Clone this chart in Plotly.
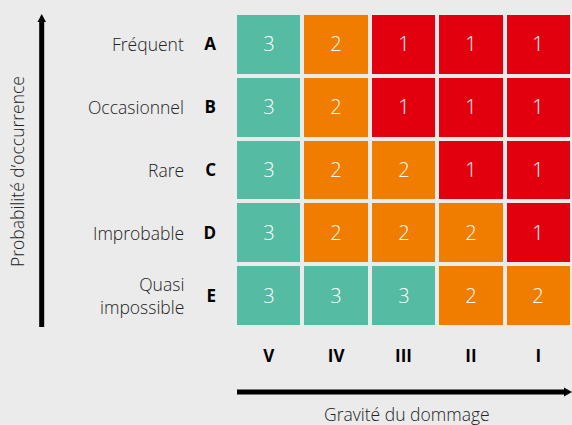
import plotly.graph_objects as go

severity = ["V", "IV", "III", "II", "I"]
prob_codes = ["A", "B", "C", "D", "E"]
prob_names = ["Fréquent", "Occasionnel", "Rare", "Improbable", "Quasi<br>impossible"]
risk_A = [3, 2, 1, 1, 1]
risk_B = [3, 2, 1, 1, 1]
risk_C = [3, 2, 2, 1, 1]
risk_D = [3, 2, 2, 2, 1]
risk_E = [3, 3, 3, 2, 2]
z = [risk_A, risk_B, risk_C, risk_D, risk_E]

RED, ORANGE, TEAL = "#e2000f", "#f07d00", "#56bba3"
BG = "#ebebeb"
FONT = "Open Sans"
TXT = "#222222"
LIGHT = 300

W, H = 572, 425
L, R, T, B = 235, 0, 13, 98
pw, ph = W - L - R, H - T - B

def px(x):
    return (x - L) / pw

def py(y):
    return (H - B - y) / ph

fig = go.Figure(go.Heatmap(
    z=z, x=severity, y=prob_codes,
    zmin=1, zmax=3,
    colorscale=[[0, RED], [0.33, RED], [0.33, ORANGE], [0.67, ORANGE], [0.67, TEAL], [1, TEAL]],
    showscale=False, xgap=4, ygap=4,
    texttemplate="%{z}", textfont=dict(color="white", size=20, family=FONT, weight=LIGHT),
    hoverinfo="skip",
))

annotations = []
for code, name in zip(prob_codes, prob_names):
    annotations.append(dict(
        x=px(186), xref="paper", y=code, yref="y", text=name, showarrow=False,
        xanchor="right", align="right",
        font=dict(size=17.5, family=FONT, color=TXT, weight=LIGHT),
    ))
annotations.append(dict(
    x=px(17), xref="paper", y=py(172), yref="paper", text="Probabilité d’occurrence",
    textangle=-90, showarrow=False, xanchor="center", yanchor="middle",
    font=dict(size=17.5, family=FONT, color=TXT, weight=LIGHT),
))
annotations.append(dict(
    x=px(407), xref="paper", y=py(414), yref="paper", text="Gravité du dommage",
    showarrow=False, xanchor="center", yanchor="middle",
    font=dict(size=17.5, family=FONT, color=TXT, weight=LIGHT),
))

shapes = [
    # vertical arrow
    dict(type="line", xref="paper", yref="paper", x0=px(41.7), x1=px(41.7), y0=py(327), y1=py(20),
         line=dict(color="black", width=5)),
    dict(type="path", xref="paper", yref="paper",
         path=f"M {px(37.5)},{py(22)} L {px(46)},{py(22)} L {px(41.7)},{py(14)} Z",
         fillcolor="black", line=dict(width=0)),
    # horizontal arrow
    dict(type="line", xref="paper", yref="paper", x0=px(237), x1=px(566), y0=py(392), y1=py(392),
         line=dict(color="black", width=5)),
    dict(type="path", xref="paper", yref="paper",
         path=f"M {px(564)},{py(387.5)} L {px(564)},{py(396.5)} L {px(572)},{py(392)} Z",
         fillcolor="black", line=dict(width=0)),
]

fig.update_layout(
    width=W, height=H,
    margin=dict(l=L, r=R, t=T, b=B),
    paper_bgcolor=BG, plot_bgcolor=BG,
    annotations=annotations, shapes=shapes,
    xaxis=dict(showgrid=False, zeroline=False, showline=False, ticks="", side="bottom",
               tickvals=severity, ticktext=[f"<b>{s}</b>" for s in severity],
               tickfont=dict(size=17, family=FONT, color="black"), ticklabelstandoff=17,
               fixedrange=True),
    yaxis=dict(showgrid=False, zeroline=False, showline=False, ticks="", autorange="reversed",
               tickvals=prob_codes, ticktext=[f"<b>{c}</b>" for c in prob_codes],
               tickfont=dict(size=17, family=FONT, color="black"), ticklabelstandoff=18,
               fixedrange=True),
)

fig.write_html("out.html", config={"displayModeBar": False},
               post_script="document.body.style.margin='0';document.body.style.background='#ebebeb';")
